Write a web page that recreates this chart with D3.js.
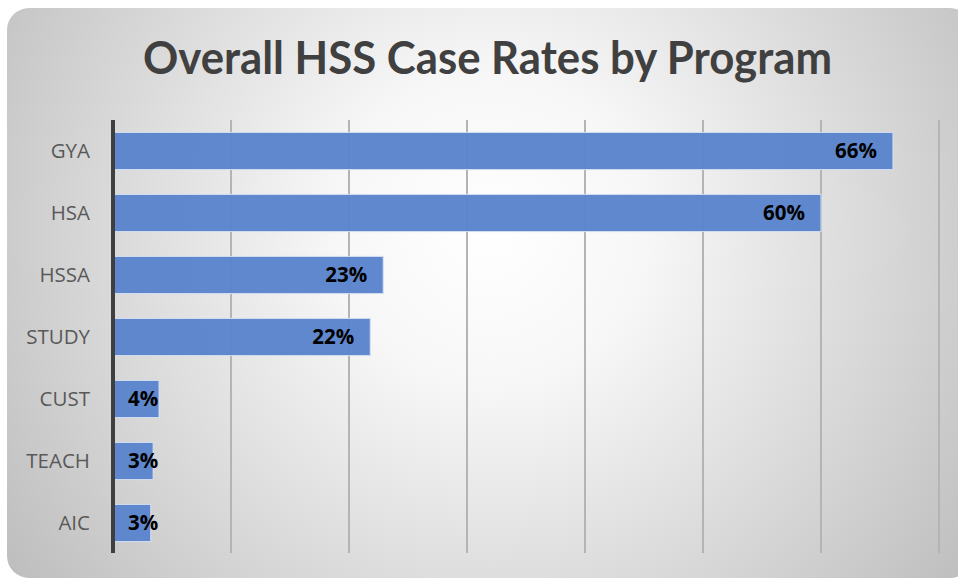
<!DOCTYPE html>
<html>
<head>
<meta charset="utf-8">
<script src="https://cdn.jsdelivr.net/npm/d3@7"></script>
<style>
  html, body { margin: 0; padding: 0; background: #ffffff; }
  svg { display: block; }
</style>
</head>
<body>
<svg id="chart" width="958" height="581"></svg>
<script>
const title = "Overall HSS Case Rates by Program";
const categories = ["GYA", "HSA", "HSSA", "STUDY", "CUST", "TEACH", "AIC"];
const values = [66.1, 60.0, 22.9, 21.8, 3.9, 3.4, 3.2];
const tickValues = [0, 10, 20, 30, 40, 50, 60, 70];

const W = 958, H = 581;
const svg = d3.select("#chart");

// background gradient
const defs = svg.append("defs");
const grad = defs.append("radialGradient")
  .attr("id", "bg").attr("gradientUnits", "userSpaceOnUse")
  .attr("cx", 490).attr("cy", 230).attr("r", 620);
grad.append("stop").attr("offset", "0%").attr("stop-color", "#ffffff");
grad.append("stop").attr("offset", "25%").attr("stop-color", "#f7f7f7");
grad.append("stop").attr("offset", "100%").attr("stop-color", "#bababa");

svg.append("rect").attr("x", 0).attr("y", 0).attr("width", W).attr("height", H).attr("fill", "#ffffff");
svg.append("rect").attr("x", 7).attr("y", 8).attr("width", 965).attr("height", 570)
  .attr("rx", 22).attr("ry", 22).attr("fill", "url(#bg)");

// title
const t = svg.append("text")
  .attr("x", 487.5).attr("y", 74)
  .attr("text-anchor", "middle")
  .attr("font-family", "Lato, 'Open Sans', sans-serif")
  .attr("font-weight", "bold")
  .attr("font-size", 45)
  .attr("fill", "#404040")
  .text(title);
const tl = t.node().getComputedTextLength();
if (Math.abs(tl - 689) > 4) {
  t.attr("textLength", 689).attr("lengthAdjust", "spacingAndGlyphs");
}

// scales
const x = d3.scaleLinear().domain([0, 70]).range([113, 939]);
const y = d3.scaleBand().domain(categories).range([120, 554]).paddingInner(0.4).paddingOuter(0.2);

// gridlines
svg.append("g").selectAll("line")
  .data(tickValues.filter(d => d > 0))
  .join("line")
  .attr("x1", d => x(d)).attr("x2", d => x(d))
  .attr("y1", 120).attr("y2", 553)
  .attr("stroke", "#b4b4b4").attr("stroke-width", 2);

// bars
svg.append("g").selectAll("rect")
  .data(categories)
  .join("rect")
  .attr("x", x(0))
  .attr("y", d => y(d))
  .attr("width", (d, i) => x(values[i]) - x(0))
  .attr("height", y.bandwidth())
  .attr("fill", "#5b84cd")
  .attr("fill-opacity", 0.97)
  .attr("stroke", "#d6e0f2")
  .attr("stroke-width", 1);

// axis line (category axis)
const yAxis = d3.axisLeft(y).tickSize(0).tickPadding(23);
const ag = svg.append("g").attr("transform", `translate(${x(0)},0)`).call(yAxis);
ag.select(".domain").attr("d", "M0,120V553").attr("stroke", "#3f3f3f").attr("stroke-width", 4);
ag.selectAll("text")
  .attr("font-family", "'Open Sans', sans-serif")
  .attr("font-size", 20.5)
  .attr("fill", "#595959");

// data labels
const lg = svg.append("g");
categories.forEach((c, i) => {
  const txt = lg.append("text")
    .attr("y", y(c) + y.bandwidth() / 2)
    .attr("dy", "0.36em")
    .attr("font-family", "'Open Sans', sans-serif")
    .attr("font-weight", "bold")
    .attr("font-size", 20.5)
    .attr("fill", "#000000")
    .attr("text-anchor", "end")
    .text(d3.format(".0f")(values[i]) + "%");
  const w = txt.node().getComputedTextLength();
  const endX = Math.max(x(values[i]) - 16, x(0) + 15 + w);
  txt.attr("x", endX);
});
</script>
</body>
</html>
